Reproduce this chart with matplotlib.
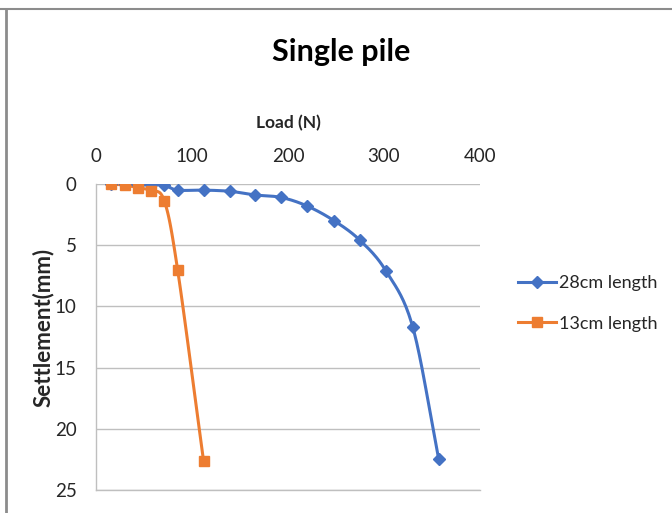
import numpy as np
import matplotlib
matplotlib.use("Agg")
import matplotlib.pyplot as plt
from matplotlib.lines import Line2D

plt.rcParams['font.family'] = ['Lato', 'DejaVu Sans']

# data
load_28 = [16, 30, 44, 57, 71, 85, 112, 140, 166, 193, 220, 248, 275, 302, 330, 357]
settle_28 = [0, 0, 0.05, 0.05, 0.1, 0.5, 0.5, 0.6, 0.9, 1.1, 1.8, 3.0, 4.6, 7.1, 11.7, 22.5]

load_13 = [16, 30, 44, 57, 71, 85, 112]
settle_13 = [0, 0.1, 0.3, 0.55, 1.35, 7.0, 22.6]

x_ticks = [0, 100, 200, 300, 400]
y_ticks = [0, 5, 10, 15, 20, 25]

BLUE = '#4472C4'
ORANGE = '#ED7D31'
GRID = '#BFBFBF'
TXT = '#262626'


def smooth(x, y, n=20):
    """Catmull-Rom path through the points (Excel style smoothed line)"""
    x = np.asarray(x, float)
    y = np.asarray(y, float)
    px = np.concatenate([[2 * x[0] - x[1]], x, [2 * x[-1] - x[-2]]])
    py = np.concatenate([[2 * y[0] - y[1]], y, [2 * y[-1] - y[-2]]])
    xs, ys = [], []
    t = np.linspace(0, 1, n, endpoint=False)
    for i in range(1, len(px) - 2):
        for p, out in ((px, xs), (py, ys)):
            p0, p1, p2, p3 = p[i - 1], p[i], p[i + 1], p[i + 2]
            seg = 0.5 * ((2 * p1) + (-p0 + p2) * t
                         + (2 * p0 - 5 * p1 + 4 * p2 - p3) * t ** 2
                         + (-p0 + 3 * p1 - 3 * p2 + p3) * t ** 3)
            out.extend(seg)
    xs.append(x[-1])
    ys.append(y[-1])
    return np.array(xs), np.array(ys)


fig = plt.figure(figsize=(6.72, 5.13), dpi=100)
ax = fig.add_axes([96 / 672, 1 - 490 / 513, 384 / 672, 306 / 513])

for lx, ly, c, m, ms, lab in [(load_28, settle_28, BLUE, 'D', 6, '28cm length'),
                              (load_13, settle_13, ORANGE, 's', 7, '13cm length')]:
    sx, sy = smooth(lx, ly)
    ax.plot(sx, sy, color=c, lw=2.2, zorder=3)
    ax.plot(lx, ly, ls='none', marker=m, ms=ms, color=c, zorder=4)
    ax.plot([], [], color=c, lw=2.2, marker=m, ms=ms, label=lab)

ax.set_xlim(0, 400)
ax.set_ylim(25, 0)
ax.set_xticks(x_ticks)
ax.set_yticks(y_ticks)
ax.xaxis.tick_top()
ax.xaxis.set_label_position('top')
ax.tick_params(length=0, labelsize=13.5, colors=TXT)
ax.tick_params(axis='x', pad=14)
ax.tick_params(axis='y', pad=14)
ax.grid(axis='y', color=GRID, lw=1)
ax.set_axisbelow(True)
for s in ['top', 'right']:
    ax.spines[s].set_visible(False)
for s in ['left', 'bottom']:
    ax.spines[s].set_color(GRID)
    ax.spines[s].set_linewidth(1)

ax.set_xlabel('Load (N)', fontsize=12.5, fontweight='bold', color=TXT, labelpad=14)
ax.set_ylabel('Settlement(mm)', fontsize=16, fontweight='bold', color=TXT)
ax.yaxis.set_label_coords((54 - 96) / 384, (490 - 327) / 306)

fig.text(341 / 672, 1 - 52 / 513, 'Single pile', ha='center', va='center',
         fontsize=22, fontweight='bold', color='black')

fig.legend(loc='center left', bbox_to_anchor=(518 / 672, 1 - 303.5 / 513),
           frameon=False, fontsize=13, handlelength=2.1, handletextpad=0.15,
           labelspacing=1.35, borderpad=0, borderaxespad=0, labelcolor=TXT)

# outer chart frame
fig.add_artist(Line2D([0, 1], [1 - 9 / 513, 1 - 9 / 513], color='#8C8C8C', lw=1.5,
                      transform=fig.transFigure))
fig.add_artist(Line2D([6 / 672, 6 / 672], [0, 1 - 9 / 513], color='#8C8C8C', lw=2,
                      transform=fig.transFigure))

fig.savefig('out.png', dpi=100)
